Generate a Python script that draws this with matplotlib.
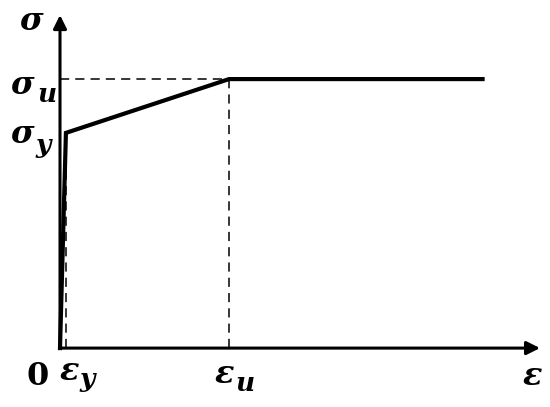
import matplotlib
matplotlib.use("Agg")
import matplotlib.pyplot as plt

# strain / stress points of the bilinear model (relative units)
strain = [0.0, 0.035, 1.0, 2.5]
stress = [0.0, 0.80, 1.0, 1.0]
eps_y, eps_u = strain[1], strain[2]
sig_y, sig_u = stress[1], stress[2]

# label text: (main glyph, subscript, x, y, sub x, sub y)
labels = [
    (r"$\sigma$", None, -0.166, 1.182, 0, 0),
    (r"$\sigma$", r"$u$", -0.219, 0.944, -0.080, 0.914),
    (r"$\sigma$", r"$y$", -0.219, 0.762, -0.090, 0.725),
    (r"$\mathrm{0}$", None, -0.135, -0.138, 0, 0),
    (r"$\varepsilon$", r"$y$", 0.055, -0.119, 0.172, -0.145),
    (r"$\varepsilon$", r"$u$", 0.970, -0.130, 1.092, -0.160),
    (r"$\varepsilon$", None, 2.793, -0.138, 0, 0),
]

plt.rcParams["mathtext.fontset"] = "custom"
plt.rcParams["mathtext.it"] = "DejaVu Serif:bold:italic"
plt.rcParams["mathtext.rm"] = "DejaVu Serif:bold"
plt.rcParams["mathtext.bf"] = "DejaVu Serif:bold"

fig = plt.figure(figsize=(5.5, 4.07), dpi=100)
ax = fig.add_axes([0, 0, 1, 1])
ax.set_xlim(-0.355, 2.899)
ax.set_ylim(-0.219, 1.294)
ax.axis("off")

# axes with arrows
arrow = dict(arrowstyle="-|>", lw=2.2, color="k", mutation_scale=20,
             shrinkA=0, shrinkB=0)
ax.annotate("", xy=(2.84, 0), xytext=(0, 0), arrowprops=arrow)
ax.annotate("", xy=(0, 1.238), xytext=(0, 0), arrowprops=arrow)

# dashed guides
ax.plot([0, eps_u], [sig_u, sig_u], "k--", lw=1.1, dashes=(6, 4))
ax.plot([eps_u, eps_u], [0, sig_u], "k--", lw=1.1, dashes=(6, 4))
ax.plot([eps_y, eps_y], [0, sig_y], "k--", lw=1.1, dashes=(6, 4))

# curve
ax.plot(strain, stress, color="k", lw=3, solid_joinstyle="miter")

for main, sub, x, y, sx, sy in labels:
    ax.text(x, y, main, fontsize=23, ha="center", va="baseline")
    if sub:
        ax.text(sx, sy, sub, fontsize=19, ha="center", va="baseline")

fig.savefig("out.png", dpi=100)
